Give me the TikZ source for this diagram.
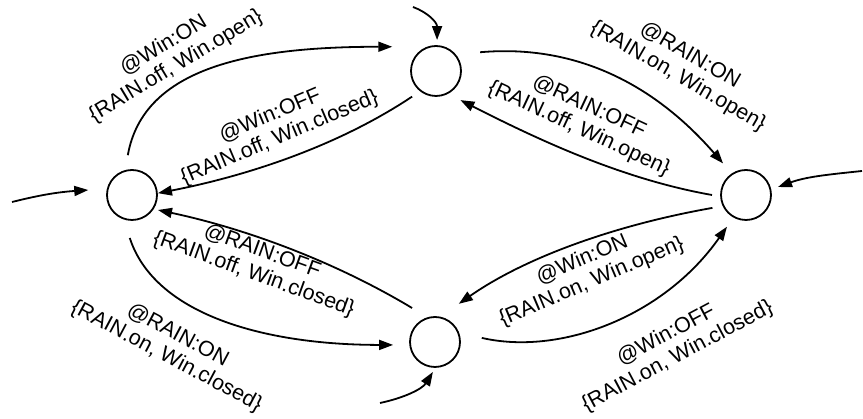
\documentclass[tikz,border=0pt]{standalone}
\usepackage{fontspec}
\setmainfont{Liberation Sans}
\usetikzlibrary{arrows.meta,calc}
\begin{document}
\begin{tikzpicture}[x=1pt,y=1pt,
  state/.style={circle,draw,line width=1.8pt,minimum size=50pt,inner sep=0pt,outer sep=0pt},
  edge/.style={line width=1.8pt,-{Triangle[length=14pt,width=10pt]}},
  lbl/.style={align=center,font=\fontsize{21.5}{24}\selectfont,inner sep=0pt}]
\useasboundingbox (0,0) rectangle (863,419);
% states
\node[state] (L) at (132,224) {};
\node[state] (T) at (436,348) {};
\node[state] (R) at (746,224) {};
\node[state] (B) at (435,77) {};
% initial arrows
\coordinate (s1) at (12,217);
\coordinate (s2) at (413,412);
\coordinate (s3) at (862,248);
\coordinate (s4) at (380,16);
\draw[edge] (s1) .. controls +(14:30) and +(184:30) .. ($(L)+(173.5:44)$);
\draw[edge] (s2) .. controls +(-20:15) and +(90:18) .. ($(T)+(88:31)$);
\draw[edge] (s3) .. controls +(186:35) and +(20:30) .. ($(R)+(14:33)$);
\draw[edge] (s4) .. controls +(12:25) and +(238:20) .. ($(B)+(266:30)$);
% transitions
\draw[edge] ($(L)+(96:40)$) .. controls +(80:90) and +(180:140) .. ($(T)+(151:50)$);
\draw[edge] ($(T)+(227:35)$) .. controls +(213.7:90) and +(11:90) .. ($(L)+(4:26)$);
\draw[edge] ($(T)+(23:48)$) .. controls +(5:100) and +(131:100) .. ($(R)+(126:39)$);
\draw[edge] ($(R)+(180:34)$) .. controls +(170:90) and +(333:90) .. ($(T)+(310:38)$);
\draw[edge] ($(B)+(124:41)$) .. controls +(149:90) and +(348:90) .. ($(L)+(-30:30)$);
\draw[edge] ($(L)+(267:43)$) .. controls +(288:80) and +(180:130) .. ($(B)+(184:42)$);
\draw[edge] ($(R)+(201:36)$) .. controls +(190:100) and +(35:80) .. ($(B)+(58:45)$);
\draw[edge] ($(B)+(5:47)$) .. controls +(347:80) and +(235:110) .. ($(R)+(239:37)$);
% labels
\node[lbl,rotate=31] (l1) at (170,363) {@Win:ON\\\{RAIN.off, Win.open\}};
\node[lbl,rotate=23] (l2) at (275,292) {@Win:OFF\\\{RAIN.off, Win.closed\}};
\node[lbl,rotate=-30] (l3) at (684,353) {@RAIN:ON\\\{RAIN.on, Win.open\}};
\node[lbl,rotate=-25] (l4) at (584,301) {@RAIN:OFF\\\{RAIN.off, Win.open\}};
\node[lbl,rotate=-20] (l5) at (258,156) {@RAIN:OFF\\\{RAIN.off, Win.closed\}};
\node[lbl,rotate=-28] (l6) at (172,73) {@RAIN:ON\\\{RAIN.on, Win.closed\}};
\node[lbl,rotate=23] (l7) at (587,148) {@Win:ON\\\{RAIN.on, Win.open\}};
\node[lbl,rotate=28] (l8) at (672,73) {@Win:OFF\\\{RAIN.on, Win.closed\}};
\end{tikzpicture}
\end{document}
